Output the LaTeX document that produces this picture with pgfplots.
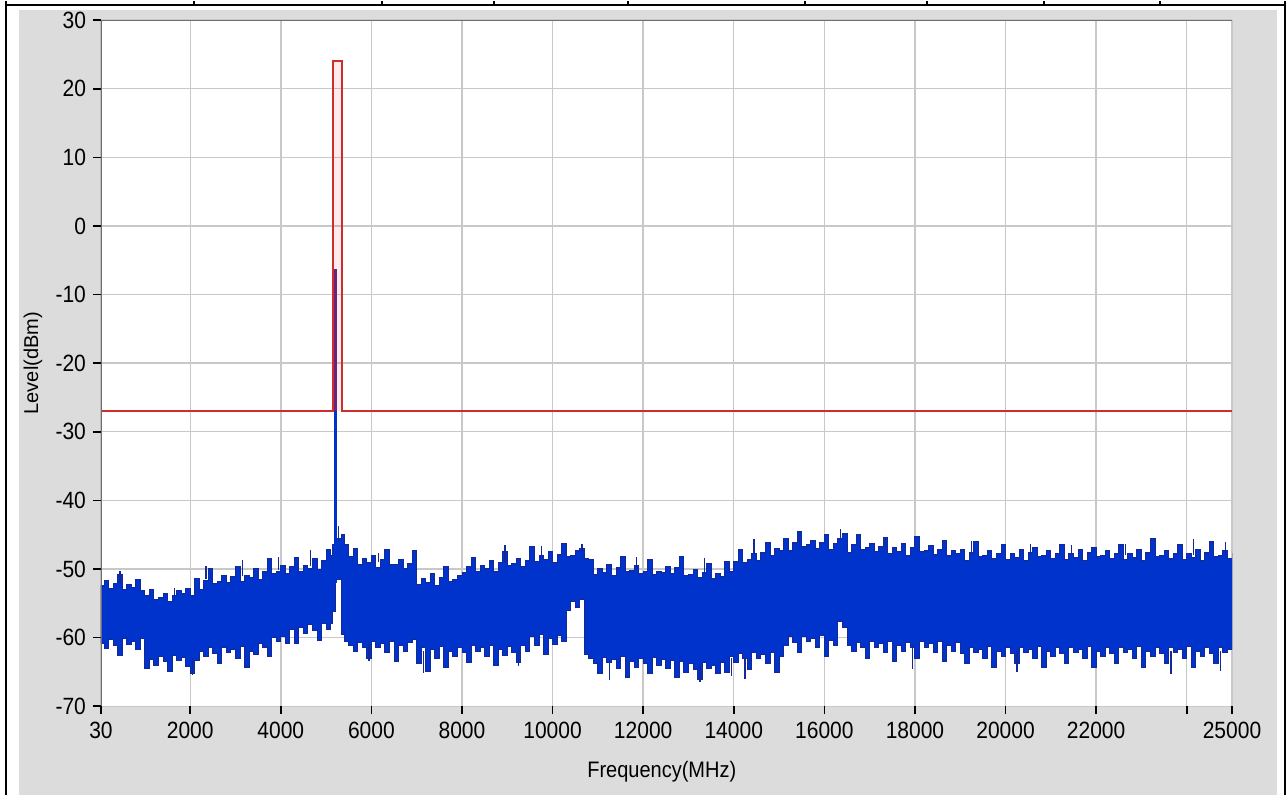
\documentclass[border=0pt]{standalone}
\usepackage{fontspec}
\setmainfont{Liberation Sans}
\usepackage{pgfplots}
\pgfplotsset{compat=1.18}
\usepackage{pgfplotstable}
\definecolor{bandblue}{RGB}{0,51,204}
\definecolor{edgeblue}{RGB}{20,40,150}
\definecolor{limred}{RGB}{205,45,45}
\definecolor{spikepurple}{RGB}{105,35,125}
\definecolor{panelgray}{RGB}{220,220,220}
\definecolor{gridgray}{RGB}{200,200,200}
\definecolor{frameg}{RGB}{110,110,110}

% noise band outline: upper envelope (ascending), then lower envelope (descending)
\pgfplotstableread{
x y
30 -52.4
100 -51.7
200 -52.9
300 -52.1
400 -50.8
500 -53.0
600 -52.2
700 -52.7
800 -51.5
900 -53.2
1000 -53.8
1100 -53.0
1200 -54.4
1300 -54.2
1400 -53.5
1500 -54.7
1600 -53.9
1700 -53.2
1800 -53.6
1900 -52.8
2000 -53.8
2100 -51.4
2200 -53.0
2300 -51.7
2400 -50.0
2500 -52.1
2600 -51.8
2700 -50.9
2800 -52.0
2900 -51.1
3000 -49.7
3100 -51.8
3200 -50.9
3300 -51.3
3400 -50.0
3500 -51.6
3600 -50.3
3700 -48.5
3800 -50.6
3900 -50.3
4000 -49.5
4100 -50.6
4200 -49.7
4300 -48.3
4400 -50.4
4500 -49.5
4600 -49.9
4700 -48.5
4800 -50.1
4900 -48.8
5000 -47.1
5100 -48.0
5150 -46.5
5210 -45.5
5330 -45.0
5400 -46.5
5500 -48.2
5600 -47.0
5700 -49.3
5800 -48.5
5900 -49.1
6000 -48.0
6100 -49.8
6200 -48.6
6300 -47.1
6400 -49.4
6500 -49.3
6600 -48.6
6700 -49.9
6800 -49.2
6900 -47.3
7000 -52.2
7100 -51.4
7200 -51.9
7300 -50.7
7400 -52.4
7500 -51.2
7600 -49.6
7700 -51.8
7800 -51.6
7900 -50.9
8000 -50.5
8100 -49.6
8200 -48.3
8300 -50.4
8400 -49.5
8500 -49.9
8600 -48.7
8700 -50.3
8800 -49.0
8900 -47.4
9000 -49.5
9100 -49.2
9200 -48.4
9300 -49.6
9400 -48.7
9500 -46.7
9600 -48.9
9700 -48.1
9800 -48.6
9900 -47.4
10000 -49.1
10100 -47.9
10200 -46.3
10300 -48.2
10400 -48.0
10500 -47.3
10600 -47.0
10700 -48.5
10800 -48.6
10900 -50.8
11000 -50.0
11100 -50.5
11200 -49.3
11300 -51.0
11400 -49.8
11500 -48.2
11600 -50.4
11700 -50.2
11800 -49.5
11900 -50.7
12000 -50.3
12100 -48.6
12200 -50.8
12300 -50.4
12400 -50.5
12500 -49.7
12600 -50.6
12700 -49.8
12800 -48.2
12900 -51.0
13000 -50.8
13100 -50.1
13200 -51.3
13300 -50.5
13400 -49.2
13500 -51.4
13600 -50.6
13700 -51.1
13800 -48.9
13900 -50.4
14000 -48.9
14100 -47.1
14200 -49.1
14300 -48.6
14400 -47.7
14500 -48.7
14600 -47.6
14700 -46.1
14800 -48.1
14900 -47.0
15000 -47.3
15100 -45.6
15200 -47.3
15300 -46.1
15400 -44.5
15500 -46.7
15600 -46.5
15700 -45.8
15800 -47.0
15900 -46.2
16000 -44.9
16100 -47.1
16200 -46.3
16300 -45.6
16400 -44.8
16500 -47.6
16600 -46.4
16700 -44.9
16800 -47.1
16900 -46.9
17000 -46.3
17100 -47.5
17200 -46.7
17300 -45.4
17400 -47.7
17500 -46.9
17600 -47.4
17700 -46.3
17800 -48.0
17900 -46.8
18000 -45.2
18100 -47.5
18200 -47.3
18300 -46.6
18400 -47.9
18500 -47.1
18600 -45.8
18700 -48.0
18800 -47.3
18900 -47.8
19000 -47.1
19100 -48.8
19200 -47.6
19300 -46.0
19400 -48.2
19500 -48.0
19600 -47.3
19700 -48.5
19800 -47.7
19900 -46.4
20000 -48.6
20100 -47.8
20200 -48.3
20300 -47.1
20400 -48.8
20500 -47.6
20600 -46.8
20700 -48.2
20800 -48.0
20900 -47.3
21000 -48.5
21100 -47.7
21200 -46.4
21300 -48.6
21400 -47.8
21500 -48.3
21600 -47.1
21700 -48.8
21800 -47.6
21900 -46.9
22000 -48.2
22100 -48.0
22200 -47.3
22300 -48.5
22400 -47.7
22500 -46.4
22600 -48.6
22700 -47.8
22800 -48.3
22900 -47.1
23000 -48.8
23100 -47.6
23200 -45.6
23300 -48.2
23400 -48.0
23500 -47.3
23600 -48.5
23700 -47.7
23800 -46.4
23900 -48.6
24000 -47.8
24100 -48.3
24200 -47.1
24300 -48.8
24400 -47.6
24500 -46.0
24600 -48.2
24700 -48.0
24800 -47.3
24900 -48.5
25000 -47.7
25000 -61.7
24900 -62.2
24800 -61.4
24700 -63.8
24600 -62.3
24500 -61.5
24400 -62.8
24300 -62.0
24200 -64.3
24100 -61.3
24000 -63.0
23900 -61.7
23800 -62.2
23700 -61.4
23600 -63.8
23500 -62.3
23400 -61.5
23300 -62.8
23200 -62.0
23100 -64.3
23000 -61.3
22900 -63.0
22800 -61.7
22700 -62.2
22600 -61.4
22500 -63.8
22400 -62.3
22300 -61.5
22200 -62.8
22100 -62.0
22000 -64.3
21900 -61.3
21800 -63.0
21700 -61.7
21600 -62.2
21500 -61.4
21400 -63.8
21300 -62.3
21200 -61.5
21100 -62.8
21000 -62.0
20900 -64.3
20800 -61.3
20700 -63.0
20600 -61.7
20500 -62.2
20400 -61.4
20300 -63.8
20200 -62.3
20100 -61.5
20000 -62.8
19900 -62.0
19800 -64.3
19700 -61.3
19600 -63.0
19500 -61.7
19400 -62.2
19300 -61.4
19200 -63.8
19100 -62.3
19000 -60.7
18900 -62.0
18800 -61.2
18700 -63.5
18600 -60.5
18500 -62.2
18400 -60.9
18300 -61.4
18200 -60.6
18100 -63.0
18000 -61.5
17900 -60.7
17800 -62.0
17700 -61.2
17600 -63.5
17500 -60.5
17400 -62.2
17300 -60.9
17200 -61.4
17100 -60.6
17000 -63.0
16900 -61.5
16800 -60.7
16700 -62.0
16600 -61.2
16500 -58.5
16400 -57.7
16300 -61.2
16200 -60.4
16100 -62.7
16000 -59.7
15900 -61.4
15800 -60.1
15700 -60.6
15600 -59.8
15500 -62.2
15400 -60.7
15300 -59.9
15200 -61.2
15100 -62.8
15000 -65.1
14900 -62.1
14800 -63.8
14700 -62.5
14600 -63.0
14500 -62.2
14400 -64.6
14300 -63.1
14200 -62.3
14100 -63.6
14000 -62.8
13900 -65.1
13800 -63.6
13700 -65.3
13600 -64.0
13500 -64.5
13400 -63.7
13300 -66.1
13200 -64.6
13100 -63.8
13000 -65.1
12900 -63.5
12800 -65.8
12700 -63.3
12600 -64.5
12500 -63.2
12400 -64.1
12300 -62.9
12200 -65.3
12100 -63.8
12000 -63.0
11900 -64.3
11800 -63.5
11700 -65.8
11600 -62.8
11500 -64.5
11400 -63.2
11300 -63.7
11200 -62.9
11100 -65.3
11000 -63.8
10900 -63.0
10800 -62.5
10700 -54.5
10600 -55.6
10500 -54.8
10400 -56.0
10300 -60.5
10200 -59.7
10100 -61.0
10000 -60.2
9900 -62.5
9800 -59.5
9700 -61.2
9600 -59.9
9500 -62.0
9400 -61.2
9300 -63.6
9200 -62.1
9100 -61.3
9000 -62.6
8900 -61.8
8800 -64.1
8700 -61.1
8600 -62.8
8500 -61.5
8400 -62.0
8300 -61.2
8200 -63.6
8100 -62.1
8000 -61.5
7900 -62.8
7800 -62.0
7700 -64.3
7600 -61.3
7500 -63.0
7400 -61.7
7300 -65.0
7200 -61.4
7100 -63.8
7000 -60.3
6900 -60.7
6800 -62.0
6700 -61.2
6600 -63.5
6500 -60.5
6400 -62.2
6300 -60.9
6200 -61.4
6100 -60.6
6000 -63.0
5900 -61.5
5800 -60.7
5700 -62.0
5600 -61.2
5500 -60.5
5400 -59.5
5330 -51.5
5210 -56.2
5150 -58.0
5100 -58.8
5000 -58.0
4900 -60.4
4800 -58.9
4700 -58.1
4600 -59.4
4500 -58.6
4400 -60.9
4300 -58.8
4200 -60.8
4100 -59.8
4000 -60.5
3900 -60.0
3800 -62.7
3700 -61.5
3600 -60.9
3500 -62.5
3400 -62.0
3300 -64.3
3200 -61.3
3100 -63.0
3000 -61.7
2900 -62.2
2800 -61.4
2700 -63.8
2600 -62.3
2500 -61.5
2400 -62.8
2300 -62.0
2200 -63.3
2100 -65.3
2000 -64.2
1900 -62.9
1800 -63.4
1700 -62.6
1600 -65.0
1500 -63.5
1400 -62.7
1300 -64.0
1200 -63.2
1100 -64.5
1000 -60.1
900 -61.8
800 -60.5
700 -61.0
600 -60.2
500 -62.6
400 -61.1
300 -60.3
200 -61.6
100 -60.8
30 -60.8
}\band

\begin{document}
\begin{tikzpicture}
\fill[white] (0pt,0pt) rectangle (644pt,397pt);
\fill[panelgray] (9.5pt,0pt) rectangle (638.5pt,392.5pt);
\draw[black, line width=1.2pt] (3pt,0pt) -- (3pt,397pt);
\draw[black, line width=1.2pt] (642.5pt,0pt) -- (642.5pt,397pt);
\draw[black, line width=1pt] (3pt,395pt) -- (642.5pt,395pt);
\foreach \xx in {97,191,247,314,402.5,463.5,522,580}{
  \draw[black, line width=1pt] (\xx pt,395pt) -- (\xx pt,397pt);
}
\begin{axis}[
  at={(50.5pt,44.5pt)}, anchor=south west,
  scale only axis, width=565.5pt, height=343pt,
  xmin=30, xmax=25000, ymin=-70, ymax=30,
  scaled x ticks=false, scaled y ticks=false,
  xtick={30,2000,4000,6000,8000,10000,12000,14000,16000,18000,20000,22000,24000,25000},
  xticklabels={30,2000,4000,6000,8000,10000,12000,14000,16000,18000,20000,22000,,25000},
  ytick={-70,-60,-50,-40,-30,-20,-10,0,10,20,30},
  yticklabels={-70,-60,-50,-40,-30,-20,-10,0,10,20,30},
  grid=major, major grid style={gridgray, line width=0.7pt},
  tick pos=left, tick align=outside, major tick length=4pt,
  tick style={black, line width=0.8pt},
  axis line style={draw=none},
  axis background/.style={fill=white},
  tick label style={font=\fontsize{10.5}{12}\selectfont, yscale=1.12},
  xlabel={Frequency(MHz)}, ylabel={Level(dBm)},
  label style={font=\fontsize{10.5}{12}\selectfont},
  every axis x label/.style={at={(rel axis cs:0.4958,-0.0948)}, anchor=center, yscale=1.12},
  every axis y label/.style={at={(rel axis cs:-0.0601,0.5)}, rotate=90, anchor=center},
]
\addplot[const plot, fill=bandblue, draw=edgeblue, line width=0.5pt] table[x=x,y=y] {\band} -- cycle;
% thin noise spikes
\addplot[edgeblue, line width=0.7pt, unbounded coords=jump] coordinates {
(450,-52) (450,-50.3) (450,nan)
(1650,-53.9) (1650,-52.8) (1650,nan)
(2350,-51.5) (2350,-49.6) (2350,nan)
(3150,-51.0) (3150,-48.7) (3150,nan)
(3950,-50.2) (3950,-48.2) (3950,nan)
(4650,-49.5) (4650,-47.3) (4650,nan)
(5280,-46) (5280,-43.8) (5280,nan)
(6150,-49.0) (6150,-47.6) (6150,nan)
(8950,-49) (8950,-46.5) (8950,nan)
(9750,-48.2) (9750,-46.6) (9750,nan)
(10650,-47.5) (10650,-46.3) (10650,nan)
(11850,-50) (11850,-48.2) (11850,nan)
(13350,-50.5) (13350,-48.4) (13350,nan)
(14450,-47.8) (14450,-45.6) (14450,nan)
(15450,-46.5) (15450,-44.5) (15450,nan)
(16350,-45.5) (16350,-44.2) (16350,nan)
(17350,-47) (17350,-45.3) (17350,nan)
(19250,-48) (19250,-45.9) (19250,nan)
(20550,-48) (20550,-46.3) (20550,nan)
(21450,-48) (21450,-46.5) (21450,nan)
(22650,-48) (22650,-46.4) (22650,nan)
(24150,-48) (24150,-45.6) (24150,nan)
(24850,-48) (24850,-46.0) (24850,nan)
(2050,-63) (2050,-65.4) (2050,nan)
(5950,-61) (5950,-63.4) (5950,nan)
(7150,-62) (7150,-65.2) (7150,nan)
(9250,-61.5) (9250,-64.2) (9250,nan)
(11250,-63.5) (11250,-66.2) (11250,nan)
(13250,-64) (13250,-66.4) (13250,nan)
(13950,-63) (13950,-65.6) (13950,nan)
(14250,-63) (14250,-66.0) (14250,nan)
(17950,-61) (17950,-64.6) (17950,nan)
(20250,-62) (20250,-65.0) (20250,nan)
(23650,-62) (23650,-65.3) (23650,nan)
(24750,-62) (24750,-64.9)
};
% carrier spike
\addplot[bandblue, line width=1.5pt] coordinates {(5205,-52) (5205,-6.3)};
% limit mask
\addplot[draw=none, fill=red, fill opacity=0.08] coordinates {(5160,-27) (5160,24) (5340,24) (5340,-27)} -- cycle;
\addplot[limred, line width=1pt] coordinates {(30,-27) (5160,-27) (5160,24) (5340,24) (5340,-27) (25000,-27)};
\addplot[spikepurple, line width=1.5pt] coordinates {(5205,-27) (5205,-6.3)};
\draw[frameg, line width=1pt] (rel axis cs:0,0) -- (rel axis cs:0,1) -- (rel axis cs:1,1);
\end{axis}
\end{tikzpicture}
\end{document}
